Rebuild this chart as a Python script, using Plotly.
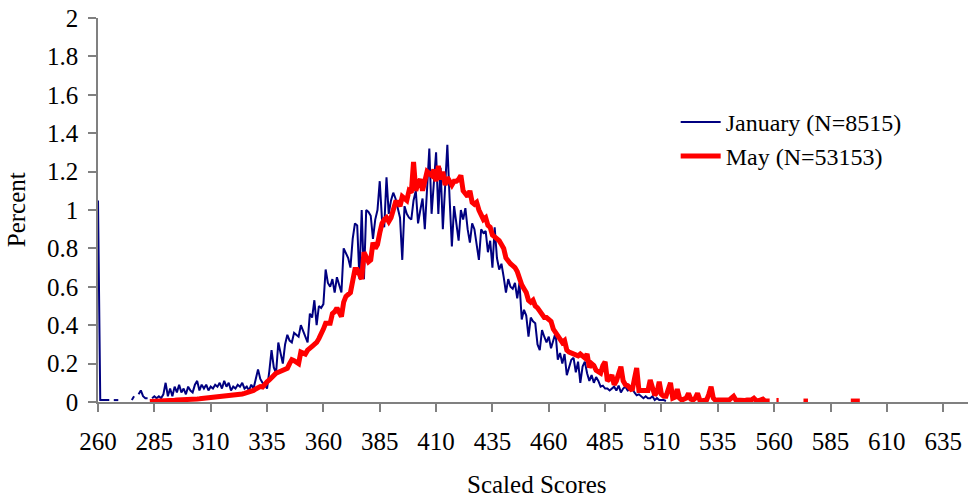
import plotly.graph_objects as go

# ---------------- data (percent of examinees at each scaled score) ----------------
jan_start = 260
jan_values = [
    1.05, 0.01, 0.01, 0.01, 0.01, 0.01, None, 0.01, 0.01, 0.01,   # 260-269
    None, None, None, None, None, 0.01, 0.03, None, 0.04, 0.06,   # 270-279
    0.03, 0.02, 0.02, None, 0.02, 0.03, 0.02, 0.03, 0.02, 0.04,   # 280-289
    0.10, 0.03, 0.07, 0.03, 0.08, 0.05, 0.09, 0.05, 0.07, 0.04,   # 290-299
    0.08, 0.06, 0.05, 0.09, 0.11, 0.06, 0.09, 0.07, 0.09, 0.06,   # 300-309
    0.08, 0.07, 0.09, 0.08, 0.10, 0.07, 0.11, 0.08, 0.10, 0.06,   # 310-319
    0.08, 0.07, 0.09, 0.08, 0.10, 0.07, 0.08, 0.06, 0.09, 0.07,   # 320-329
    0.12, 0.17, 0.12, 0.10, 0.09, 0.07, 0.16, 0.27, 0.18, 0.15,   # 330-339
    0.31, 0.25, 0.20, 0.30, 0.35, 0.32, 0.31, 0.36, 0.35, 0.34,   # 340-349
    0.40, 0.37, 0.33, 0.31, 0.46, 0.44, 0.53, 0.40, 0.50, 0.49,   # 350-359
    0.51, 0.69, 0.62, 0.60, 0.64, 0.57, 0.65, 0.61, 0.57, 0.80,   # 360-369
    0.77, 0.75, 0.70, 0.85, 0.93, 0.92, 0.64, 1.00, 0.64, 1.00,   # 370-379
    0.99, 0.97, 0.85, 0.95, 1.00, 1.15, 0.95, 0.91, 1.17, 0.98,   # 380-389
    1.05, 1.09, 1.06, 1.00, 0.96, 0.74, 1.02, 0.98, 0.96, 0.95,   # 390-399
    1.05, 1.10, 0.93, 1.00, 1.06, 0.90, 1.10, 1.32, 0.98, 1.12,   # 400-409
    1.30, 0.98, 1.22, 0.90, 1.10, 1.34, 1.06, 0.81, 1.02, 0.92,   # 410-419
    0.84, 1.00, 0.95, 1.01, 0.90, 0.83, 0.93, 0.90, 0.82, 0.74,   # 420-429
    0.90, 0.88, 0.89, 0.78, 0.84, 0.70, 0.91, 0.75, 0.69, 0.72,   # 430-439
    0.65, 0.57, 0.64, 0.60, 0.59, 0.62, 0.54, 0.62, 0.43, 0.48,   # 440-449
    0.45, 0.34, 0.44, 0.42, 0.41, 0.30, 0.27, 0.375, 0.34, 0.31,  # 450-459
    0.34, 0.28, 0.32, 0.36, 0.22, 0.255, 0.20, 0.25, 0.14, 0.18,  # 460-469
    0.22, 0.23, 0.155, 0.21, 0.10, 0.185, 0.21, 0.15, 0.11, 0.14, # 470-479
    0.10, 0.13, 0.11, 0.08, 0.085, 0.07, 0.07, 0.06, 0.07, 0.08,  # 480-489
    0.06, 0.085, 0.05, 0.07, 0.08, 0.06, 0.065, 0.07, 0.05, 0.035,# 490-499
    0.04, 0.03, 0.02, 0.03, 0.02, 0.02, 0.03, 0.01, 0.02, 0.01,   # 500-509
    0.01, 0.01, 0.005,                                            # 510-512
]

may_start = 280
may_values = [
    None, None, None, 0.003, 0.003, 0.004, 0.004, 0.005, 0.005, 0.006,   # 280-289
    0.007, 0.007, 0.008, 0.008, 0.009, 0.010, 0.010, 0.011, 0.012, 0.012, # 290-299
    0.013, 0.014, 0.015, 0.015, 0.016, 0.017, 0.018, 0.019, 0.020, 0.020, # 300-309
    0.022, 0.023, 0.025, 0.026, 0.027, 0.029, 0.030, 0.032, 0.034, 0.036, # 310-319
    0.035, 0.038, 0.040, 0.040, 0.042, 0.045, 0.048, 0.050, 0.055, 0.060, # 320-329
    0.068, 0.075, 0.080, 0.078, 0.095, 0.105, 0.115, 0.130, 0.140, 0.150, # 330-339
    0.155, 0.160, 0.167, 0.170, 0.175, 0.200, 0.220, 0.215, 0.210, 0.200, # 340-349
    0.260, 0.255, 0.250, 0.270, 0.285, 0.290, 0.300, 0.310, 0.330, 0.350, # 350-359
    0.380, 0.410, 0.410, 0.410, 0.460, 0.470, 0.490, 0.470, 0.445, 0.520, # 360-369
    0.550, 0.560, 0.570, 0.630, 0.690, 0.690, 0.660, 0.640, 0.780, 0.750, # 370-379
    0.730, 0.740, 0.830, 0.800, 0.820, 0.880, 0.930, 0.950, 0.960, 0.940, # 380-389
    0.960, 1.000, 1.040, 1.040, 1.020, 1.070, 1.060, 1.050, 1.100, 1.090, # 390-399
    1.250, 1.100, 1.140, 1.160, 1.100, 1.160, 1.200, 1.190, 1.180, 1.210, # 400-409
    1.150, 1.230, 1.160, 1.200, 1.130, 1.170, 1.150, 1.130, 1.150, 1.150, # 410-419
    1.160, 1.180, 1.100, 1.080, 1.070, 1.100, 1.040, 1.030, 1.040, 1.000, # 420-429
    0.970, 0.950, 0.960, 0.920, 0.910, 0.870, 0.860, 0.850, 0.840, 0.820, # 430-439
    0.800, 0.750, 0.730, 0.720, 0.710, 0.700, 0.680, 0.640, 0.610, 0.590, # 440-449
    0.570, 0.530, 0.520, 0.530, 0.500, 0.490, 0.470, 0.450, 0.440, 0.440, # 450-459
    0.430, 0.420, 0.380, 0.360, 0.340, 0.320, 0.310, 0.320, 0.270, 0.260, # 460-469
    0.255, 0.250, 0.250, 0.240, 0.250, 0.240, 0.230, 0.250, 0.180, 0.200, # 470-479
    0.190, 0.165, 0.160, 0.150, 0.190, 0.210, 0.110, 0.120, 0.140, 0.090, # 480-489
    0.110, 0.150, 0.184, 0.110, 0.090, 0.085, 0.070, 0.060, 0.120, 0.177, # 490-499
    0.060, 0.060, 0.055, 0.055, 0.060, 0.115, 0.060, 0.036, 0.050, 0.106, # 500-509
    0.040, 0.030, 0.030, 0.070, 0.100, 0.020, 0.025, 0.067, 0.020, 0.010, # 510-519
    0.012, 0.020, 0.045, 0.015, 0.010, 0.020, 0.045, 0.010, 0.007, 0.008, # 520-529
    0.010, 0.040, 0.080, 0.020, 0.008, 0.010, 0.010, 0.008, 0.010, 0.010, # 530-539
    0.010, 0.020, 0.030, 0.010, 0.008, 0.010, 0.010, 0.008, 0.010, 0.010, # 540-549
    0.012, 0.020, 0.008, 0.006, 0.010, 0.015, 0.005, 0.005, 0.005, None,  # 550-559
    None, 0.008, 0.008, None, None, None, None, None, None, None,         # 560-569
    None, None, None, 0.005, 0.005, 0.005, None, None, None, None,        # 570-579
    None, None, None, None, None, None, None, None, None, None,           # 580-589
    None, None, None, None, 0.005, 0.005, 0.008, 0.005, 0.005,            # 590-598
]

jan_scores = list(range(jan_start, jan_start + len(jan_values)))
may_scores = list(range(may_start, may_start + len(may_values)))

series_names = ["January (N=8515)", "May (N=53153)"]
x_title = "Scaled Scores"
y_title = "Percent"
x_tick_values = list(range(260, 636, 25))
y_tick_values = [0, 0.2, 0.4, 0.6, 0.8, 1, 1.2, 1.4, 1.6, 1.8, 2]
y_tick_labels = ["0", "0.2", "0.4", "0.6", "0.8", "1", "1.2", "1.4", "1.6", "1.8", "2"]

FONT = "Liberation Serif, Times New Roman, serif"
FS = 25
AXIS_COLOR = "#808080"

fig = go.Figure()
fig.add_trace(go.Scatter(
    x=jan_scores, y=jan_values, mode="lines", name=series_names[0],
    line=dict(color="#000080", width=2), connectgaps=False,
))
fig.add_trace(go.Scatter(
    x=may_scores, y=may_values, mode="lines", name=series_names[1],
    line=dict(color="#FF0000", width=5), connectgaps=False,
))

fig.update_layout(
    width=969, height=498,
    margin=dict(l=98, r=1, t=18, b=96, autoexpand=False),
    plot_bgcolor="white", paper_bgcolor="white",
    font=dict(family=FONT, size=FS, color="black"),
    showlegend=True,
    legend=dict(
        x=0.664, y=0.787, xanchor="left", yanchor="top",
        bgcolor="rgba(0,0,0,0)", borderwidth=0,
        font=dict(family=FONT, size=FS - 1, color="black"),
        tracegroupgap=0, itemwidth=40,
    ),
    annotations=[
        dict(text=x_title, xref="paper", yref="paper", x=0.5046, y=-0.216,
             xanchor="center", yanchor="middle", showarrow=False,
             font=dict(family=FONT, size=FS, color="black")),
        dict(text=y_title, xref="paper", yref="paper", x=-0.094, y=0.5,
             xanchor="center", yanchor="middle", textangle=-90, showarrow=False,
             font=dict(family=FONT, size=FS, color="black")),
    ],
)
fig.update_xaxes(
    range=[260, 646], tickvals=x_tick_values, automargin=False,
    showline=True, linecolor=AXIS_COLOR, linewidth=1.5,
    ticks="outside", ticklen=8, tickcolor=AXIS_COLOR, tickwidth=1.5,
    showgrid=False, zeroline=False,
    ticklabelstandoff=8,
)
fig.update_yaxes(
    range=[0, 2], tickvals=y_tick_values, ticktext=y_tick_labels, automargin=False,
    showline=True, linecolor=AXIS_COLOR, linewidth=1.5,
    ticks="outside", ticklen=8, tickcolor=AXIS_COLOR, tickwidth=1.5,
    showgrid=False, zeroline=False,
    ticklabelstandoff=5,
)

fig.write_html(
    "out.html",
    config={"displayModeBar": False},
    post_script="document.body.style.margin='0';document.body.style.overflow='hidden';",
)
